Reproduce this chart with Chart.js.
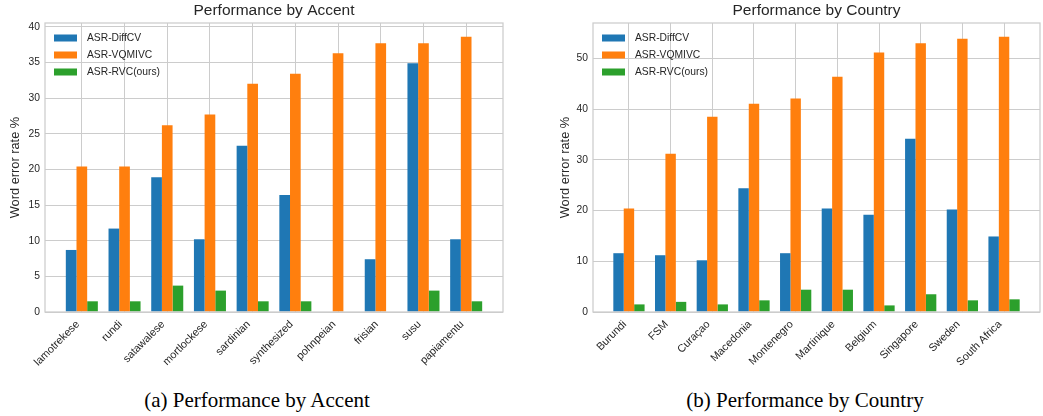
<!DOCTYPE html>
<html>
<head>
<meta charset="utf-8">
<script src="https://cdn.jsdelivr.net/npm/chart.js@4.4.1/dist/chart.umd.min.js"></script>
<style>
    body { margin: 0; background: #fff; width: 1043px; height: 416px; position: relative; overflow: hidden; }
    .box { position: absolute; top: 0; height: 372px; }
    .cap { position: absolute; top: 388px; font-family: "Liberation Serif", serif; font-size: 21px; color: #000; text-align: center; }
</style>
</head>
<body>
<div class="box" style="left:0;width:520px"><canvas id="accentChart"></canvas></div>
<div class="box" style="left:550px;width:493px"><canvas id="countryChart"></canvas></div>
<div class="cap" style="left:0;width:514px">(a) Performance by Accent</div>
<div class="cap" style="left:560px;width:490px">(b) Performance by Country</div>
<script>
const seriesNames = ['ASR-DiffCV', 'ASR-VQMIVC', 'ASR-RVC(ours)'];
const seriesColors = ['#1f77b4', '#ff7f0e', '#2ca02c'];

const accents = ['lamotrekese', 'rundi', 'satawalese', 'mortlockese', 'sardinian',
    'synthesized', 'pohnpeian', 'frisian', 'susu', 'papiamentu'];
const accentDiffCV = [8.7, 11.7, 18.9, 10.2, 23.3, 16.4, 0, 7.4, 34.9, 10.2];
const accentVQMIVC = [20.4, 20.4, 26.2, 27.7, 32.0, 33.4, 36.3, 37.7, 37.7, 38.6];
const accentRVC = [1.5, 1.5, 3.7, 3.0, 1.5, 1.5, 0, 0, 3.0, 1.5];
const accentTicks = [0, 5, 10, 15, 20, 25, 30, 35, 40];

const countries = ['Burundi', 'FSM', 'Curaçao', 'Macedonia', 'Montenegro',
    'Martinique', 'Belgium', 'Singapore', 'Sweden', 'South Africa'];
const countryDiffCV = [11.6, 11.2, 10.2, 24.4, 11.6, 20.4, 19.2, 34.2, 20.2, 14.9];
const countryVQMIVC = [20.4, 31.2, 38.5, 41.1, 42.1, 46.4, 51.2, 53.0, 53.9, 54.3];
const countryRVC = [1.5, 2.0, 1.5, 2.3, 4.4, 4.4, 1.3, 3.5, 2.3, 2.5];
const countryTicks = [0, 10, 20, 30, 40, 50];

const textColor = '#262626';
const gridColor = '#cccccc';
const font = 'Liberation Sans';

// frame, title and legend drawn inside the plot like matplotlib does
const framePlugin = {
    id: 'frame',
    afterDraw(chart, args, opts) {
        const { ctx, chartArea: a } = chart;
        ctx.save();
        ctx.strokeStyle = gridColor;
        ctx.lineWidth = 1.25;
        ctx.strokeRect(a.left, a.top, a.right - a.left, a.bottom - a.top);

        ctx.fillStyle = textColor;
        ctx.font = '15.5px "' + font + '"';
        ctx.textAlign = 'center';
        ctx.textBaseline = 'middle';
        ctx.fillText(opts.title, (a.left + a.right) / 2, 11);

        ctx.font = '10.3px "' + font + '"';
        ctx.textAlign = 'left';
        chart.data.datasets.forEach((ds, i) => {
            const y = a.top + 15 + i * 17;
            ctx.fillStyle = ds.backgroundColor;
            ctx.fillRect(a.left + 9, y - 3.5, 23, 7);
            ctx.fillStyle = textColor;
            ctx.fillText(ds.label, a.left + 42, y);
        });
        ctx.restore();
    }
};

function createChart(elementId, title, labels, series, yTicks, axisWidth, padRight) {
    const canvas = document.getElementById(elementId);
    const all = series.flat();
    return new Chart(canvas.getContext('2d'), {
        type: 'bar',
        data: {
            datasets: series.map((values, i) => ({
                label: seriesNames[i],
                data: values.map((v, j) => ({ x: j, y: v })),
                backgroundColor: seriesColors[i],
                borderWidth: 0,
                categoryPercentage: 0.75,
                barPercentage: 1.0
            }))
        },
        options: {
            responsive: true,
            maintainAspectRatio: false,
            animation: false,
            layout: { padding: { top: 23, right: padRight, left: 0, bottom: 0 } },
            plugins: {
                legend: { display: false },
                tooltip: { enabled: false },
                frame: { title: title }
            },
            scales: {
                x: {
                    type: 'linear',
                    min: -0.8625,
                    max: 9.8625,
                    offset: false,
                    afterBuildTicks: axis => { axis.ticks = labels.map((_, i) => ({ value: i })); },
                    afterFit: s => { s.height = 60; },
                    grid: { color: gridColor, offset: false, drawTicks: false },
                    border: { display: false },
                    ticks: {
                        autoSkip: false,
                        minRotation: 45,
                        maxRotation: 45,
                        padding: 6,
                        labelOffset: -4,
                        color: textColor,
                        font: { family: font, size: 10.8 },
                        callback: v => labels[v]
                    }
                },
                y: {
                    min: 0,
                    max: Math.max(...all) * 1.05,
                    afterBuildTicks: axis => { axis.ticks = yTicks.map(v => ({ value: v })); },
                    afterFit: s => { s.width = axisWidth; },
                    grid: { color: gridColor, drawTicks: false },
                    border: { display: false },
                    ticks: { padding: 5, color: textColor, font: { family: font, size: 10.3 } },
                    title: {
                        display: true,
                        text: 'Word error rate %',
                        color: textColor,
                        font: { family: font, size: 12.8 },
                        padding: { top: 8, bottom: 0 }
                    }
                }
            }
        },
        plugins: [framePlugin]
    });
}

createChart('accentChart', 'Performance by Accent', accents,
    [accentDiffCV, accentVQMIVC, accentRVC], accentTicks, 45, 17);
createChart('countryChart', 'Performance by Country', countries,
    [countryDiffCV, countryVQMIVC, countryRVC], countryTicks, 43, 3);
</script>
</body>
</html>
